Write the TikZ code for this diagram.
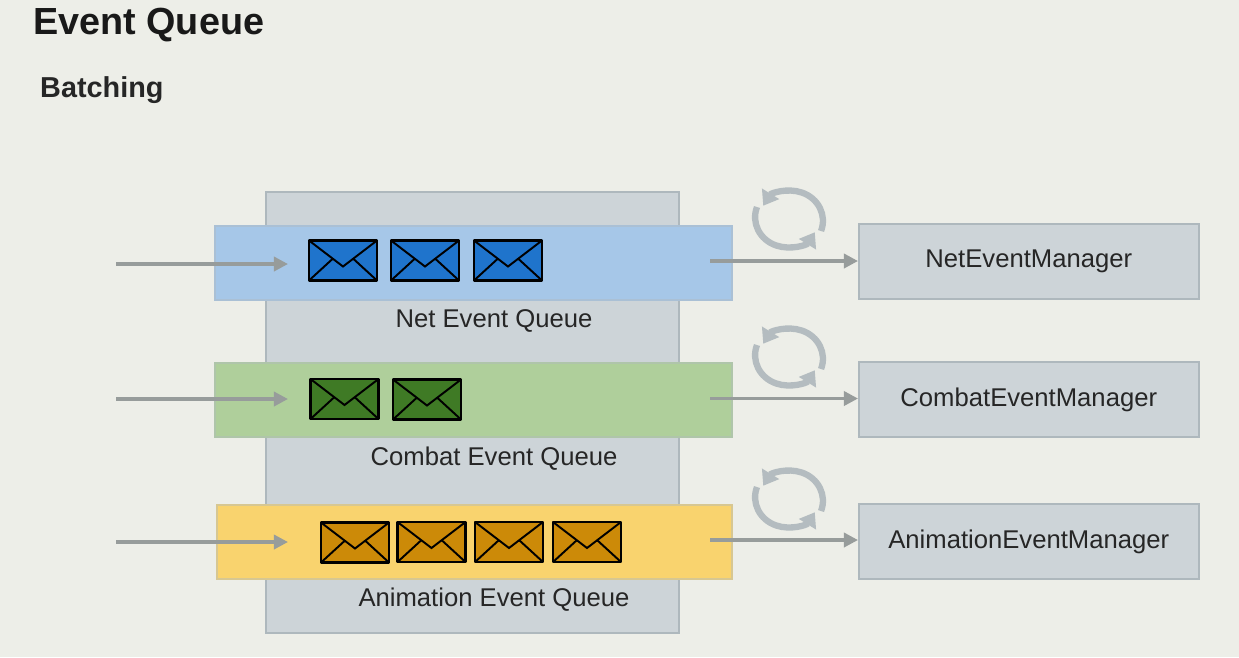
\documentclass[tikz,border=0pt]{standalone}
\usepackage{fontspec}
\setmainfont{Liberation Sans}
\usetikzlibrary{arrows.meta}
\definecolor{pagebg}{HTML}{EDEEE8}
\definecolor{panelfill}{HTML}{CDD4D8}
\definecolor{panelline}{HTML}{AEB8BD}
\definecolor{netbar}{HTML}{A6C7E8}
\definecolor{combatbar}{HTML}{AFCF9B}
\definecolor{animbar}{HTML}{F9D36E}
\definecolor{netmail}{HTML}{1F74CC}
\definecolor{combatmail}{HTML}{3F7A25}
\definecolor{animmail}{HTML}{CC8A08}
\definecolor{flowgray}{HTML}{979C9B}
\definecolor{cyclegray}{HTML}{B4BCC0}
\tikzset{
  box/.style={draw=panelline,line width=1.1pt,inner sep=0pt,anchor=north west},
  bar/.style={box,draw=#1!55!panelline,fill=#1,minimum height=42.2pt},
  mail/.pic={
    \draw [black,line width=1.3pt,fill=#1,line join=round] (-34,-20) rectangle (34,20);
    \draw [black,line width=1.1pt] (-34,-20) -- (0,6) -- (34,-20);
    \draw [black,line width=1.1pt] (-34,20) -- (-10,-2);
    \draw [black,line width=1.1pt] (34,20) -- (10,-2);
  },
  cycle/.pic={
    \draw [cyclegray,line width=3.6pt,-{Triangle[length=8pt,width=11pt]}] (32,12) arc (20:-150:32 and 30) ;
    \draw [cyclegray,line width=3.6pt,-{Triangle[length=8pt,width=11pt]}] (-32,-12) arc (200:30:32 and 30) ;
  },
  flow/.style={flowgray,line width=1.9pt,-{Triangle[length=8pt,width=8pt]}},
  queuelabel/.style={font=\fontsize{14.6}{17}\selectfont,text=black!85},
  managerlabel/.style={box,fill=panelfill,minimum width=193.3pt,minimum height=42.8pt,font=\fontsize{14.6}{17}\selectfont,text=black!85,align=center}
}
\begin{document}
\begin{tikzpicture}[x=0.02cm,y=-0.02cm]
      \useasboundingbox [fill=pagebg] (0,0) rectangle (1239,657);
      \node [anchor=west,font=\bfseries\fontsize{21.5}{24}\selectfont,text=black!90] (title) at (27,25) {Event Queue};
      \node [anchor=west,font=\bfseries\fontsize{16.4}{19}\selectfont,text=black!85] (subtitle) at (34,90) {Batching};
      \node [box,fill=panelfill,minimum width=235.3pt,minimum height=251.1pt] (panel) at (265,191) {};
      \node [bar=netbar,minimum width=294.2pt] (netqueue) at (214,225) {};
      \node [bar=combatbar,minimum width=294.2pt] (combatqueue) at (214,362) {};
      \node [bar=animbar,minimum width=293.1pt] (animqueue) at (216,504) {};
      \node [queuelabel] (netlabel) at (494,321) {Net Event Queue};
      \node [queuelabel] (combatlabel) at (494,459) {Combat Event Queue};
      \node [queuelabel] (animlabel) at (494,600) {Animation Event Queue};
      \node [managerlabel] (netmanager) at (858,223) {NetEventManager};
      \node [managerlabel] (combatmanager) at (858,361) {CombatEventManager};
      \node [managerlabel] (animmanager) at (858,503) {AnimationEventManager};
      \pic at (343,260.5) {mail=netmail};
      \pic at (425,260.5) {mail=netmail};
      \pic at (508,260.5) {mail=netmail};
      \pic at (344.5,399) {mail=combatmail};
      \pic at (427,399.5) {mail=combatmail};
      \pic at (355,542.5) {mail=animmail};
      \pic at (431.5,542) {mail=animmail};
      \pic at (509,542) {mail=animmail};
      \pic at (587,542) {mail=animmail};
      \pic at (789,219) {cycle};
      \pic at (789,357) {cycle};
      \pic at (789,499) {cycle};
      \coordinate (netin) at (116,264);
      \coordinate (netstop) at (288,264);
      \coordinate (combatin) at (116,399);
      \coordinate (combatstop) at (288,399);
      \coordinate (animin) at (116,542);
      \coordinate (animstop) at (288,542);
      \coordinate (netout) at (710,261);
      \coordinate (combatout) at (710,398.5);
      \coordinate (animout) at (710,540);
      \draw [flow] (netin) -- (netstop);
      \draw [flow] (combatin) -- (combatstop);
      \draw [flow] (animin) -- (animstop);
      \draw [flow] (netout) -- (netout -| netmanager.west);
      \draw [flow] (combatout) -- (combatout -| combatmanager.west);
      \draw [flow] (animout) -- (animout -| animmanager.west);
    \end{tikzpicture}
\end{document}
